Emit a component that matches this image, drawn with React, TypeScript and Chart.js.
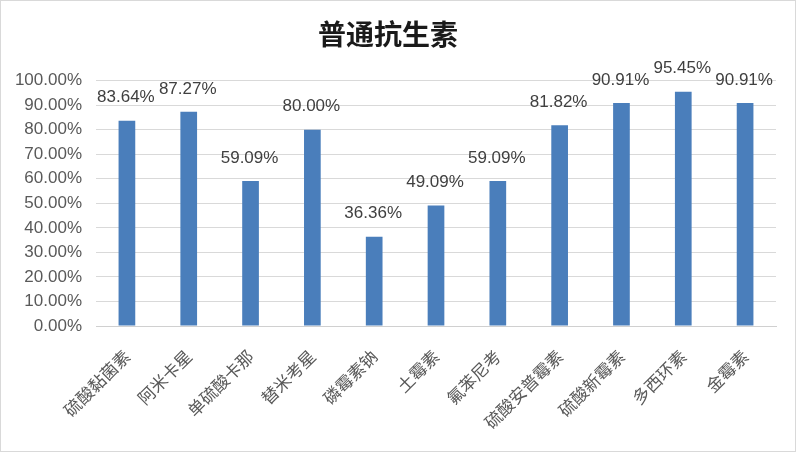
import React, { useEffect, useRef } from "react";
import { Chart, registerables } from "chart.js";

Chart.register(...registerables);

const titleText = "普通抗生素";
const categories = [
  "硫酸黏菌素",
  "阿米卡星",
  "单硫酸卡那",
  "替米考星",
  "磷霉素钠",
  "土霉素",
  "氟苯尼考",
  "硫酸安普霉素",
  "硫酸新霉素",
  "多西环素",
  "金霉素",
];
const values = [83.64, 87.27, 59.09, 80.0, 36.36, 49.09, 59.09, 81.82, 90.91, 95.45, 90.91];
const yTicks = [0, 10, 20, 30, 40, 50, 60, 70, 80, 90, 100];

const fmt = (v: number) => v.toFixed(2) + "%";

const valueLabels = {
  id: "valueLabels",
  afterDatasetsDraw(chart: any) {
    const ctx = chart.ctx;
    const meta = chart.getDatasetMeta(0);
    ctx.save();
    ctx.font = '17px "Liberation Sans", Arial, sans-serif';
    ctx.fillStyle = "#404040";
    ctx.textAlign = "center";
    ctx.textBaseline = "middle";
    meta.data.forEach((bar: any, i: number) => {
      ctx.fillText(fmt(values[i]), bar.x - 1, bar.y - 23);
    });
    ctx.restore();
  },
};

export default function App() {
  const ref = useRef<HTMLCanvasElement | null>(null);
  useEffect(() => {
    if (!ref.current) return;
    const chart = new Chart(ref.current, {
      type: "bar",
      data: {
        labels: categories,
        datasets: [
          {
            data: values,
            backgroundColor: "#4a7ebb",
            borderWidth: 0,
            barPercentage: 0.27,
            categoryPercentage: 1,
          },
        ],
      },
      options: {
        responsive: false,
        animation: false,
        devicePixelRatio: 1,
        layout: { padding: { left: 0, right: 24, top: 0, bottom: 4 } },
        plugins: {
          legend: { display: false },
          tooltip: { enabled: false },
          title: {
            display: true,
            text: titleText,
            color: "#1a1a1a",
            font: { family: '"Noto Sans CJK SC", sans-serif', size: 28, weight: "bold" },
            padding: { top: 18, bottom: 29 },
          },
        },
        scales: {
          x: {
            grid: { display: false },
            border: { display: true, color: "#d0d0d0", width: 1 },
            ticks: {
              color: "#595959",
              font: { family: '"Noto Sans CJK SC", sans-serif', size: 17 },
              minRotation: 45,
              maxRotation: 45,
              autoSkip: false,
              padding: 12,
            },
            afterFit: (s: any) => {
              s.height = 125;
            },
          },
          y: {
            min: 0,
            max: 100,
            afterBuildTicks: (s: any) => {
              s.ticks = yTicks.map((v) => ({ value: v }));
            },
            grid: { color: "#d9d9d9", drawTicks: false },
            border: { display: false },
            ticks: {
              color: "#595959",
              font: { family: '"Liberation Sans", Arial, sans-serif', size: 17 },
              padding: 14,
              callback: (v: any) => fmt(Number(v)),
            },
            afterFit: (s: any) => {
              s.width = 96;
            },
          },
        },
      },
      plugins: [valueLabels],
    });
    return () => chart.destroy();
  }, []);
  return (
    <div style={{ position: "fixed", left: 0, top: 0, width: 800, height: 455, background: "#fff" }}>
      <canvas ref={ref} width={800} height={455} style={{ display: "block", position: "absolute", left: 0, top: 0 }} />
      <div
        style={{
          position: "absolute",
          left: 0,
          top: 0,
          width: 796,
          height: 452,
          boxSizing: "border-box",
          border: "1px solid #d9d9d9",
          pointerEvents: "none",
        }}
      />
    </div>
  );
}
